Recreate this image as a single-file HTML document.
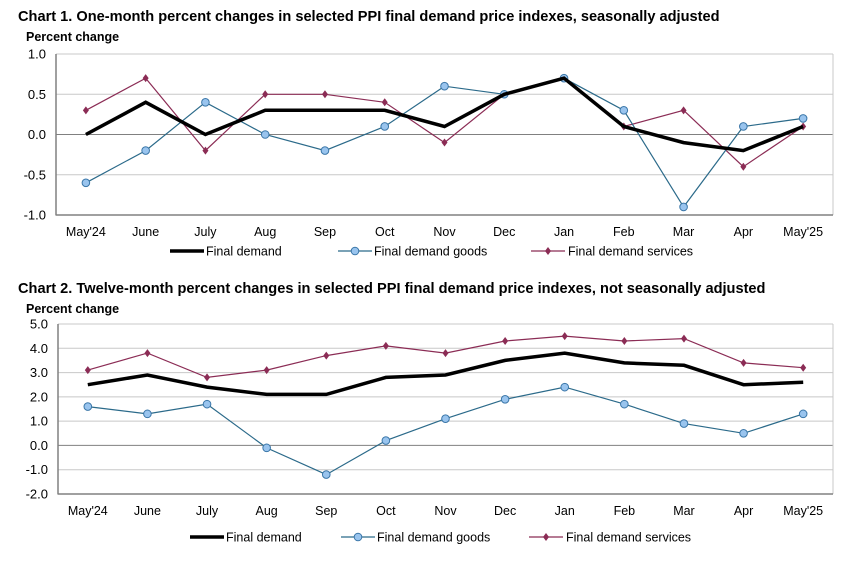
<!DOCTYPE html>
<html><head><meta charset="utf-8"><style>
body{margin:0;background:#fff;font-family:"Liberation Sans",Arial,sans-serif}
svg text{font-family:"Liberation Sans",Arial,sans-serif}
</style></head><body>
<svg id="s" width="851" height="572" xmlns="http://www.w3.org/2000/svg"></svg>
<script>
const months=["May'24","June","July","Aug","Sep","Oct","Nov","Dec","Jan","Feb","Mar","Apr","May'25"];
const c1Demand=[0,0.4,0,0.3,0.3,0.3,0.1,0.5,0.7,0.1,-0.1,-0.2,0.1];
const c1Goods=[-0.6,-0.2,0.4,0,-0.2,0.1,0.6,0.5,0.7,0.3,-0.9,0.1,0.2];
const c1Services=[0.3,0.7,-0.2,0.5,0.5,0.4,-0.1,0.5,0.7,0.1,0.3,-0.4,0.1];
const c1Ticks=[1.0,0.5,0.0,-0.5,-1.0];
const c2Demand=[2.5,2.9,2.4,2.1,2.1,2.8,2.9,3.5,3.8,3.4,3.3,2.5,2.6];
const c2Goods=[1.6,1.3,1.7,-0.1,-1.2,0.2,1.1,1.9,2.4,1.7,0.9,0.5,1.3];
const c2Services=[3.1,3.8,2.8,3.1,3.7,4.1,3.8,4.3,4.5,4.3,4.4,3.4,3.2];
const c2Ticks=[5.0,4.0,3.0,2.0,1.0,0.0,-1.0,-2.0];

const svg=document.getElementById('s');
const NS="http://www.w3.org/2000/svg";
function mk(tag,attrs,parent){const e=document.createElementNS(NS,tag);for(const k in attrs)e.setAttribute(k,attrs[k]);(parent||svg).appendChild(e);return e;}
function txt(x,y,s,size,weight,anchor,parent){const t=mk('text',{x:x,y:y,'font-size':size,'font-weight':weight||'normal','text-anchor':anchor||'start',fill:'#000'},parent);t.textContent=s;return t;}
function diamond(g,x,y){return mk('polygon',{points:`${x},${y-4} ${x+3},${y} ${x},${y+4} ${x-3},${y}`,fill:'#8b2c55'},g);}
function circle(g,x,y){return mk('circle',{cx:x,cy:y,r:3.8,fill:'#99c4ee',stroke:'#3a76a8','stroke-width':1},g);}

function chart(cfg){
  const g=mk('g',{});
  
  
  const t=txt(18,cfg.titleY,cfg.title,14.6,'bold','start',g);
  
  
  const yt=txt(26,cfg.titleY+20,'Percent change',12.5,'bold','start',g);
  
  
  const {L,R,T,B,min,max}=cfg;
  const y=v=>T+(max-v)/(max-min)*(B-T);
  const step=(R-L)/months.length;
  const x=i=>L+step*(i+0.5);
  cfg.ticks.forEach(v=>{
    const yy=y(v);
    const ln=mk('line',{x1:L,x2:R,y1:yy,y2:yy,stroke:v===0?'#808080':'#c8c8c8','stroke-width':1},g);
    
    
    const tl=txt(L-10,yy+4.5,v.toFixed(1),13,'normal','end',g);
    
    
  });
  mk('line',{x1:R,x2:R,y1:T,y2:B,stroke:'#c8c8c8'},g);
  mk('line',{x1:L,x2:L,y1:T,y2:B+0.5,stroke:'#808080','stroke-width':1.5},g);
  mk('line',{x1:L,x2:R,y1:B,y2:B,stroke:'#808080','stroke-width':1.5},g);
  months.forEach((m,i)=>{const tl=txt(x(i),cfg.xlabY,m,12.5,'normal','middle',g);
    
    });
  const path=arr=>arr.map((v,i)=>`${i?'L':'M'}${x(i).toFixed(1)},${y(v).toFixed(1)}`).join(' ');
  const sv=mk('g',{},g);
  
  
  mk('path',{d:path(cfg.services),fill:'none',stroke:'#8b2c55','stroke-width':1.2},sv);
  cfg.services.forEach((v,i)=>diamond(sv,x(i),y(v)));
  const gd=mk('g',{},g);
  
  
  mk('path',{d:path(cfg.goods),fill:'none',stroke:'#2b6a8a','stroke-width':1.2},gd);
  cfg.goods.forEach((v,i)=>circle(gd,x(i),y(v)));
  const dm=mk('path',{d:path(cfg.demand),fill:'none',stroke:'#000','stroke-width':3.5,'stroke-linejoin':'miter'},g);
  
  
  const lg=mk('g',{},g);
  
  
  const ly=cfg.legY, lp=cfg.leg;
  mk('line',{x1:lp[0],x2:lp[0]+34,y1:ly,y2:ly,stroke:'#000','stroke-width':3.5},lg);
  txt(lp[0]+36,ly+4.5,'Final demand',12.5,'normal','start',lg);
  mk('line',{x1:lp[1],x2:lp[1]+34,y1:ly,y2:ly,stroke:'#2b6a8a','stroke-width':1.2},lg);
  circle(lg,lp[1]+17,ly);
  txt(lp[1]+36,ly+4.5,'Final demand goods',12.5,'normal','start',lg);
  mk('line',{x1:lp[2],x2:lp[2]+34,y1:ly,y2:ly,stroke:'#8b2c55','stroke-width':1.2},lg);
  diamond(lg,lp[2]+17,ly);
  txt(lp[2]+37,ly+4.5,'Final demand services',12.5,'normal','start',lg);
}
chart({name:'chart-1-one-month',title:'Chart 1. One-month percent changes in selected PPI final demand price indexes, seasonally adjusted',
  titleY:21,L:56,R:833,T:54,B:215,min:-1,max:1,ticks:c1Ticks,xlabY:236,legY:251,leg:[170,338,531],
  demand:c1Demand,goods:c1Goods,services:c1Services});
chart({name:'chart-2-twelve-month',title:'Chart 2. Twelve-month percent changes in selected PPI final demand price indexes, not seasonally adjusted',
  titleY:293,L:58,R:833,T:324,B:494,min:-2,max:5,ticks:c2Ticks,xlabY:515,legY:537,leg:[190,341,529],
  demand:c2Demand,goods:c2Goods,services:c2Services});
</script>
</body></html>
